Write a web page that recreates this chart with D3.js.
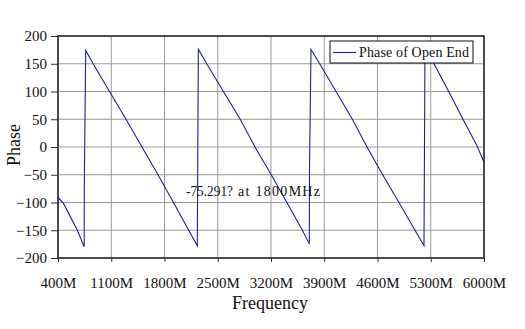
<!DOCTYPE html>
<html>
<head>
<meta charset="utf-8">
<script src="https://cdn.jsdelivr.net/npm/d3@7"></script>
<style>
  html, body { margin: 0; padding: 0; background: #fff; }
  svg { display: block; }
  text { font-family: "Liberation Serif", "Times New Roman", serif; fill: #111; }
</style>
</head>
<body>
<svg id="chart" width="525" height="329"></svg>
<script>
// ---- data ----
const frequencyMHz = [400, 470, 560, 654, 744, 746, 764,
  862, 1077, 1294, 1504, 1715, 1918, 2118, 2231, 2245,
  2355, 2575, 2795, 2990, 3203, 3409, 3613, 3704, 3706, 3726,
  3840, 4055, 4270, 4462, 4668, 4882, 5093, 5211, 5224,
  5343, 5536, 5724, 5904, 6000];
const phaseDeg = [-91, -101, -125, -150, -180, -68, 174,
  150, 100, 50, 0, -50, -100, -150, -178, 176,
  150, 100, 50, 0, -50, -100, -150, -175, -40, 176,
  150, 100, 50, 0, -50, -100, -150, -178, 176,
  150, 100, 50, 3, -27];
const xTicks = [400, 1100, 1800, 2500, 3200, 3900, 4600, 5300, 6000];
const yTicks = [-200, -150, -100, -50, 0, 50, 100, 150, 200];
const seriesName = "Phase of Open End";
const annotation = ["-75.291?", "at 1800MHz"];
const xTitle = "Frequency";
const yTitle = "Phase";

// ---- layout ----
const M = { left: 58, top: 36, right: 484, bottom: 258 };
const svg = d3.select("#chart");
const x = d3.scaleLinear().domain([400, 6000]).range([M.left, M.right]);
const y = d3.scaleLinear().domain([-200, 200]).range([M.bottom, M.top]);

// gridlines
svg.append("g").selectAll("line").data(xTicks).join("line")
  .attr("x1", d => x(d)).attr("x2", d => x(d))
  .attr("y1", M.top).attr("y2", M.bottom)
  .attr("stroke", "#9a9a9a").attr("stroke-width", 1);
svg.append("g").selectAll("line").data(yTicks).join("line")
  .attr("x1", M.left).attr("x2", M.right)
  .attr("y1", d => y(d)).attr("y2", d => y(d))
  .attr("stroke", "#9a9a9a").attr("stroke-width", 1);

// axes
const xAxis = d3.axisBottom(x).tickValues(xTicks).tickFormat(d => d + "M")
  .tickSize(4).tickPadding(15);
const gx = svg.append("g").attr("transform", `translate(0,${M.bottom})`).call(xAxis);
gx.select(".domain").remove();
gx.selectAll("line").attr("stroke", "#333");
gx.selectAll("text").attr("font-size", 15).attr("fill", "#111")
  .attr("font-family", "Liberation Serif, serif");

const yAxis = d3.axisLeft(y).tickValues(yTicks).tickSize(7).tickPadding(4);
const gy = svg.append("g").attr("transform", `translate(${M.left},0)`).call(yAxis);
gy.select(".domain").remove();
gy.selectAll("line").attr("stroke", "#333");
gy.selectAll("text").attr("font-size", 15).attr("fill", "#111")
  .attr("font-family", "Liberation Serif, serif");

// plot border
svg.append("rect").attr("x", M.left).attr("y", M.top)
  .attr("width", M.right - M.left).attr("height", M.bottom - M.top)
  .attr("fill", "none").attr("stroke", "#222").attr("stroke-width", 1.5);

// series line
const pts = frequencyMHz.map((f, i) => [f, phaseDeg[i]]);
svg.append("path").datum(pts)
  .attr("fill", "none").attr("stroke", "#20209a").attr("stroke-width", 1.1)
  .attr("d", d3.line().x(d => x(d[0])).y(d => y(d[1])));

// annotation
svg.append("text").attr("x", 186).attr("y", 196).attr("font-size", 14)
  .attr("textLength", 47).attr("lengthAdjust", "spacingAndGlyphs").text(annotation[0]);
svg.append("text").attr("x", 238).attr("y", 196).attr("font-size", 14)
  .attr("textLength", 82).attr("lengthAdjust", "spacing").text(annotation[1]);

// legend
const lg = svg.append("g");
lg.append("rect").attr("x", 330).attr("y", 41).attr("width", 143).attr("height", 22)
  .attr("fill", "#fff").attr("stroke", "#111").attr("stroke-width", 1);
lg.append("line").attr("x1", 333).attr("x2", 356).attr("y1", 52.5).attr("y2", 52.5)
  .attr("stroke", "#20209a").attr("stroke-width", 1.1);
lg.append("text").attr("x", 359).attr("y", 57).attr("font-size", 14)
  .attr("textLength", 110).attr("lengthAdjust", "spacing").text(seriesName);

// axis titles
svg.append("text").attr("x", 270).attr("y", 309).attr("text-anchor", "middle")
  .attr("font-size", 18).text(xTitle);
svg.append("text").attr("transform", "translate(20,145) rotate(-90)")
  .attr("text-anchor", "middle").attr("font-size", 18).text(yTitle);
</script>
</body>
</html>
